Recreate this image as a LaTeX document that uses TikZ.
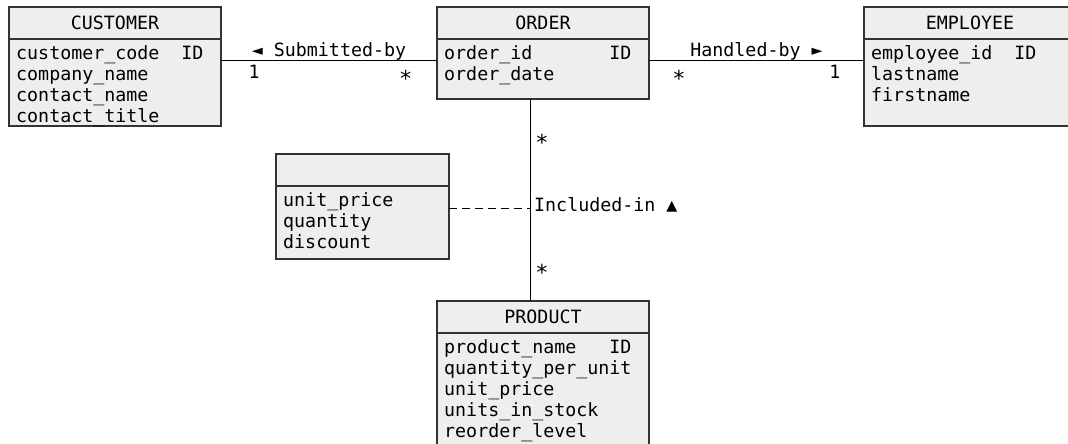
\documentclass[tikz,border=0pt]{standalone}
\usepackage{fontspec}
\setmainfont{DejaVu Sans Mono}
\usetikzlibrary{positioning}

\definecolor{boxfill}{HTML}{EEEEEE}
\definecolor{boxline}{HTML}{333333}

\tikzset{
  head/.style={fill=boxfill,draw=boxline,line width=1.5pt,minimum width=212pt,minimum height=32pt,inner sep=0pt,outer sep=0pt},
  body/.style={fill=boxfill,draw=boxline,line width=1.5pt,minimum width=212pt,inner sep=0pt,outer sep=0pt,anchor=north},
  attrs/.style={anchor=north west,align=left,inner xsep=7pt,inner ysep=6pt},
  link/.style={draw=black,line width=1pt},
  role/.style={inner sep=0.5pt,above},
  mult/.style={inner sep=0pt},
  many/.style={inner sep=0pt,scale=1.2},
}

\begin{document}
\begin{tikzpicture}[x=1pt,y=-1pt,font=\fontsize{18.3pt}{21pt}\selectfont]
	\useasboundingbox (0,0) rectangle (1068,444);

	% entities
	\node[head] (customer) at (115,23) {CUSTOMER};
	\node[body,minimum height=87pt] (customer-body) at (customer.south) {};
	\node[attrs] (customer-attrs) at (customer-body.north west) {customer\_code~~ID\\company\_name\\contact\_name\\contact\_title};

	\node[head,right=216pt of customer] (order) {ORDER};
	\node[body,minimum height=60pt] (order-body) at (order.south) {};
	\node[attrs] (order-attrs) at (order-body.north west) {order\_id~~~~~~~ID\\order\_date};

	\node[head,right=215pt of order] (employee) {EMPLOYEE};
	\node[body,minimum height=87pt] (employee-body) at (employee.south) {};
	\node[attrs] (employee-attrs) at (employee-body.north west) {employee\_id~~ID\\lastname\\firstname};

	\node[head,below=202pt of order-body] (product) {PRODUCT};
	\node[body,minimum height=118pt] (product-body) at (product.south) {};
	\node[attrs] (product-attrs) at (product-body.north west) {product\_name~~~ID\\quantity\_per\_unit\\unit\_price\\units\_in\_stock\\reorder\_level};

	% association class
	\node[head,minimum width=173pt] (line-item) at (362.5,170) {};
	\node[body,minimum width=173pt,minimum height=73pt] (line-item-body) at (line-item.south) {};
	\node[attrs] (line-item-attrs) at (line-item-body.north west) {unit\_price\\quantity\\discount};

	% ports for the connectors
	\coordinate (cust-port) at ([yshift=-22pt]customer-body.north east);
	\coordinate (ord-west) at ([yshift=-22pt]order-body.north west);
	\coordinate (ord-east) at ([yshift=-22pt]order-body.north east);
	\coordinate (emp-port) at ([yshift=-22pt]employee-body.north west);
	\coordinate (ord-foot) at ([xshift=93pt]order-body.south west);
	\coordinate (prod-top) at ([xshift=93pt]product.north west);
	\coordinate (item-port) at ([yshift=-22pt]line-item-body.north east);
	\coordinate (incl) at (ord-foot |- item-port);

	% relationships
	\draw[link] (cust-port) -- node[role] (submitted) {◄ Submitted-by}
		node[mult,pos=0,anchor=base west,xshift=27pt,yshift=-17pt] (submitted-1) {1}
		node[many,pos=1,anchor=base east,xshift=-20pt,yshift=-21pt] (submitted-n) {*} (ord-west);
	\draw[link] (ord-east) -- node[role] (handled) {Handled-by ►}
		node[many,pos=0,anchor=base west,xshift=19pt,yshift=-21pt] (handled-n) {*}
		node[mult,pos=1,anchor=base east,xshift=-23pt,yshift=-17pt] (handled-1) {1} (emp-port);
	\draw[link] (ord-foot) --
		node[many,pos=0,anchor=base west,xshift=4pt,yshift=-43pt] (included-top) {*}
		node[many,pos=1,anchor=base west,xshift=4pt,yshift=17.5pt] (included-bot) {*} (prod-top);
	\draw[link,dash pattern=on 8pt off 5pt] (item-port) -- (incl);
	\node[inner sep=0pt,anchor=base west,xshift=4pt,yshift=-3.5pt] (included) at (incl) {Included-in ▲};
\end{tikzpicture}
\end{document}
